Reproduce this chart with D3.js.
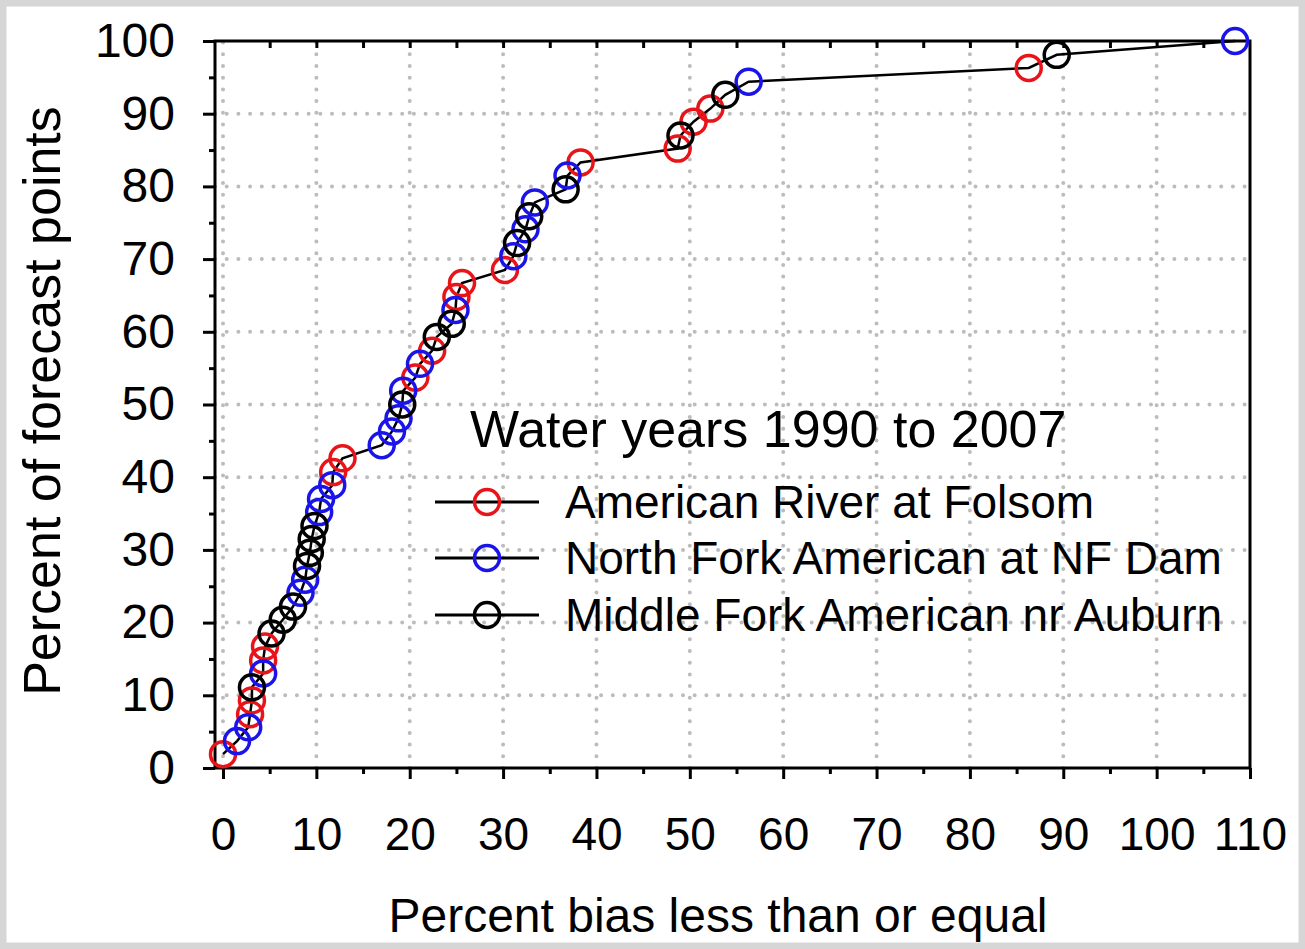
<!DOCTYPE html>
<html>
<head>
<meta charset="utf-8">
<script src="https://cdn.jsdelivr.net/npm/d3@7"></script>
<style>
  html, body { margin: 0; padding: 0; background: #fff; }
  svg { display: block; font-family: "Liberation Sans", Arial, sans-serif; }
</style>
</head>
<body>
<svg width="1305" height="949"></svg>
<script>
// American River at Folsom (red)
const folsomBias = [0.0, 2.9, 3.1, 4.3, 4.5, 11.8, 12.8, 20.6, 22.4, 25.0, 25.6, 30.2, 38.3, 48.7, 50.4, 52.2, 86.3];
const folsomPct  = [1.9, 7.4, 9.3, 14.8, 16.7, 40.7, 42.6, 53.7, 57.4, 64.8, 66.7, 68.5, 83.3, 85.2, 88.9, 90.7, 96.3];

// North Fork American at NF Dam (blue)
const nfBias = [1.5, 2.7, 4.3, 8.3, 8.8, 10.3, 10.5, 11.7, 17.0, 18.1, 18.8, 19.3, 21.1, 24.9, 31.1, 32.4, 33.4, 36.9, 56.3, 108.4];
const nfPct  = [3.7, 5.6, 13.0, 24.1, 25.9, 35.2, 37.0, 38.9, 44.4, 46.3, 48.1, 51.9, 55.6, 63.0, 70.4, 74.1, 77.8, 81.5, 94.4, 100];

// Middle Fork American nr Auburn (black)
const mfBias = [3.1, 5.2, 6.4, 7.5, 9.0, 9.3, 9.5, 9.8, 19.2, 22.9, 24.5, 31.5, 32.8, 36.7, 49.0, 53.8, 89.3];
const mfPct  = [11.1, 18.5, 20.4, 22.2, 27.8, 29.6, 31.5, 33.3, 50.0, 59.3, 61.1, 72.2, 75.9, 79.6, 87.0, 92.6, 98.1];

const seriesNames = ["American River at Folsom", "North Fork American at NF Dam", "Middle Fork American nr Auburn"];
const seriesColors = ["#e8141a", "#1a14e8", "#000000"];
const xTicks = [0, 10, 20, 30, 40, 50, 60, 70, 80, 90, 100, 110];
const yTicks = [0, 10, 20, 30, 40, 50, 60, 70, 80, 90, 100];
const legendTitle = "Water years 1990 to 2007";
const xTitle = "Percent bias less than or equal";
const yTitle = "Percent of forecast points";

const svg = d3.select("svg"),
      width = +svg.attr("width"),
      height = +svg.attr("height");

const x = d3.scaleLinear().domain([0, 110]).range([223, 1250]);
const y = d3.scaleLinear().domain([0, 100]).range([768, 41]);
const frameLeft = 215;

const series = [
  { name: seriesNames[0], color: seriesColors[0], pts: folsomBias.map((b, i) => ({ x: b, y: folsomPct[i] })) },
  { name: seriesNames[1], color: seriesColors[1], pts: nfBias.map((b, i) => ({ x: b, y: nfPct[i] })) },
  { name: seriesNames[2], color: seriesColors[2], pts: mfBias.map((b, i) => ({ x: b, y: mfPct[i] })) }
];

// outer gray frame
svg.append("rect")
  .attr("x", 3).attr("y", 3)
  .attr("width", width - 6).attr("height", height - 6)
  .attr("fill", "#fff")
  .attr("stroke", "#d6d6d6")
  .attr("stroke-width", 7);

// dotted grid
const grid = svg.append("g")
  .attr("stroke", "#bcbcbc")
  .attr("stroke-width", 4)
  .attr("stroke-linecap", "round")
  .attr("stroke-dasharray", "0 11.7");

grid.selectAll(".vg")
  .data(xTicks.filter(d => d < 110))
  .enter().append("line")
  .attr("x1", d => x(d)).attr("x2", d => x(d))
  .attr("y1", y(0)).attr("y2", y(100));

grid.selectAll(".hg")
  .data(yTicks.filter(d => d > 0 && d < 100))
  .enter().append("line")
  .attr("x1", frameLeft).attr("x2", x(110))
  .attr("y1", d => y(d)).attr("y2", d => y(d));

// frame
svg.append("rect")
  .attr("x", frameLeft).attr("y", y(100))
  .attr("width", x(110) - frameLeft).attr("height", y(0) - y(100))
  .attr("fill", "none")
  .attr("stroke", "#000")
  .attr("stroke-width", 3);

const tickStyle = g => {
  g.select(".domain").remove();
  g.selectAll("line").attr("stroke", "#000").attr("stroke-width", 3);
};

// bottom axis
const xAxis = svg.append("g")
  .attr("transform", `translate(0,${y(0)})`)
  .call(d3.axisBottom(x).tickValues(xTicks).tickSize(11).tickPadding(38).tickSizeOuter(0))
  .call(tickStyle);
xAxis.selectAll("text")
  .attr("fill", "#000")
  .style("font-size", "46px");

svg.append("g")
  .attr("transform", `translate(0,${y(0)})`)
  .call(d3.axisBottom(x).tickValues(d3.range(5, 110, 10)).tickSize(6).tickFormat("").tickSizeOuter(0))
  .call(tickStyle);

// top ticks pointing inward
svg.append("g")
  .attr("transform", `translate(0,${y(100)})`)
  .call(d3.axisBottom(x).tickValues(d3.range(5, 110, 5)).tickSize(7).tickFormat("").tickSizeOuter(0))
  .call(tickStyle);

// left axis
const yAxis = svg.append("g")
  .attr("transform", `translate(${frameLeft},0)`)
  .call(d3.axisLeft(y).tickValues(yTicks).tickSize(12).tickPadding(28).tickSizeOuter(0))
  .call(tickStyle);
yAxis.selectAll("text")
  .attr("fill", "#000")
  .style("font-size", "48px");

svg.append("g")
  .attr("transform", `translate(${frameLeft},0)`)
  .call(d3.axisLeft(y).tickValues(d3.range(5, 100, 10)).tickSize(6).tickFormat("").tickSizeOuter(0))
  .call(tickStyle);

// one connecting line through all forecast points
const pooled = series.flatMap(s => s.pts).sort((a, b) => a.y - b.y);
const line = d3.line().x(d => x(d.x)).y(d => y(d.y));

svg.append("path")
  .datum(pooled)
  .attr("d", line)
  .attr("fill", "none")
  .attr("stroke", "#000")
  .attr("stroke-width", 2.5);

// markers
series.forEach(s => {
  svg.append("g").selectAll("circle")
    .data(s.pts)
    .enter().append("circle")
    .attr("cx", d => x(d.x))
    .attr("cy", d => y(d.y))
    .attr("r", 12.5)
    .attr("fill", "none")
    .attr("stroke", s.color)
    .attr("stroke-width", 3.5);
});

// legend
svg.append("text")
  .attr("x", 470).attr("y", 447)
  .style("font-size", "52px")
  .text(legendTitle);

const legend = svg.append("g");
const rowY = [502, 558, 615];
series.forEach((s, i) => {
  legend.append("line")
    .attr("x1", 435).attr("x2", 539)
    .attr("y1", rowY[i]).attr("y2", rowY[i])
    .attr("stroke", "#000").attr("stroke-width", 3);
  legend.append("circle")
    .attr("cx", 487).attr("cy", rowY[i]).attr("r", 12.5)
    .attr("fill", "none").attr("stroke", s.color).attr("stroke-width", 3.5);
  legend.append("text")
    .attr("x", 565).attr("y", rowY[i] + 16)
    .style("font-size", "46px")
    .text(s.name);
});

// axis titles
svg.append("text")
  .attr("x", 718).attr("y", 932)
  .attr("text-anchor", "middle")
  .style("font-size", "48px")
  .text(xTitle);

svg.append("text")
  .attr("transform", `translate(60,401) rotate(-90)`)
  .attr("text-anchor", "middle")
  .style("font-size", "52px")
  .text(yTitle);
</script>
</body>
</html>
